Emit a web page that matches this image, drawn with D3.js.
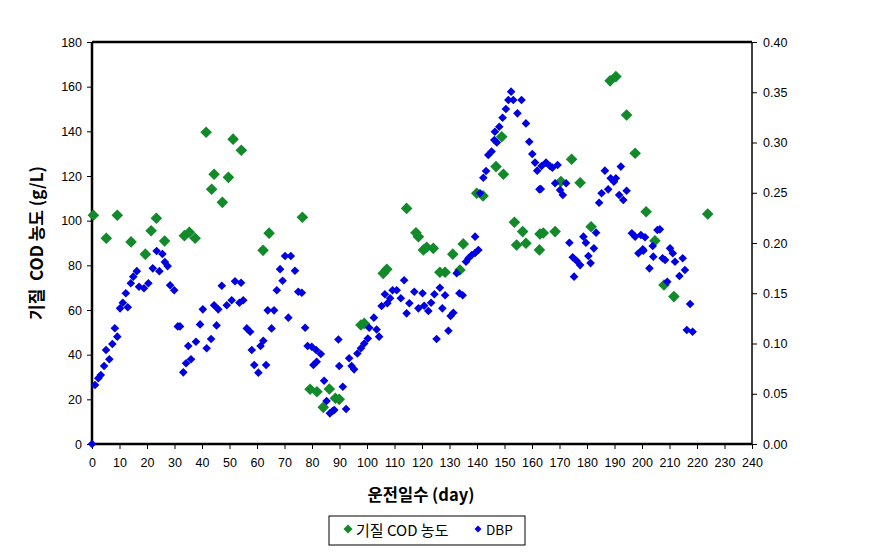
<!DOCTYPE html>
<html>
<head>
<meta charset="utf-8">
<script src="https://cdn.jsdelivr.net/npm/d3@7"></script>
<style>
  body { margin: 0; background: #fff; }
  svg text { font-family: "Noto Sans CJK KR", "Liberation Sans", sans-serif; fill: #000; }
</style>
</head>
<body>
<div id="chart"></div>
<script>
// 기질 COD 농도 (day, g/L)
let codDays = [0.5,5.2,9.2,14.2,19.4,21.5,23.4,26.4,33.6,35.4,37.5,41.5,43.5,44.4,47.4,49.6,51.3,54.3,62.2,64.4,
  76.5,79.3,81.8,84.1,86.3,88.5,89.9,97.8,99,105.9,107.2,114.4,117.8,118.7,120.5,121.7,124.1,126.5,128.4,131.2,
  133.8,135,139.9,142.2,146.9,149,149.6,153.6,154.4,156.6,157.8,162.7,162.9,164.1,168.4,170.5,174.4,177.5,181.5,188.4,
  190.5,194.4,197.5,201.5,204.7,208,211.6,223.9]
let codValues = [102.4,92.1,102.4,90.5,85.0,95.5,101.1,90.9,93.3,94.8,92.1,139.6,114.1,120.8,108.2,119.4,136.5,131.5,86.7,94.4,
  101.5,24.5,23.4,16.4,24.6,20.5,20.0,53.3,54,76.4,78.2,105.5,94.6,92.8,86.9,88.1,87.6,76.9,76.9,85.0,
  77.9,89.6,112.3,111.1,124.2,137.6,120.8,99.3,89.1,95.1,89.9,86.9,94.0,94.5,95.1,117.5,127.5,117,97.3,162.6,
  164.5,147.3,130.2,104.0,91.0,71.2,66,103.0]

// DBP (day, value)
let dbpDays = [0,1.1,2.3,3.2,4.4,5.1,6.3,7.4,8.3,9.2,10.2,11.2,12.3,13,14.1,15,16.3,17.1,18.9,20.5,
  22.1,23.5,24.5,25.6,26.5,27.5,28.4,29.9,31.2,32,33.2,34.2,35,36,37.8,39.3,40.3,41.7,43.3,44.4,
  45.3,45.9,47.2,49,50.8,52,53.6,54.2,55,56.3,57.5,58.1,59,60.5,61.3,62.3,63.3,63.9,65.3,66.2,
  67.2,68.4,69.3,70.2,71.4,72.3,73.8,75,76.3,77.5,78.4,79.9,80.5,81.5,81.7,83.2,84.4,85.3,86.5,87.5,
  88.1,89.6,89.9,91.2,92.4,93.5,94.4,95.3,96.5,97.8,99,100.3,100.8,102.5,103.5,104.4,105.3,106.5,107.4,108.4,
  109.3,110.8,112.3,113.5,114.4,115.4,117.2,118.7,120.2,120.8,122.3,123.3,124.5,125.3,126.5,127.4,128.4,129.6,130.4,131.4,
  132.6,133.6,134.8,136,136.9,138.1,139.3,139.3,140.5,141.1,142.3,143.3,144.1,145.3,146.3,146.5,147.2,148.1,149.3,150.5,
  151.4,152.4,153.2,154.7,156.2,157.8,159,160.1,161.1,161.9,162.7,163.2,163.5,165.1,166.5,167.4,168.4,169.3,170.2,171.2,
  172.4,173.6,174.8,175.3,176.2,177.5,178.7,179.6,180.5,181.3,182.5,183.3,184.4,185.3,186.5,187.7,188.6,189.8,190.5,191.7,
  192.3,193.2,194.4,196.3,197.5,198.7,199.6,200.3,200.5,201.1,202.7,203.9,204.1,205.6,206.5,207.5,208.4,209.2,210.2,211.2,
  212,213.6,214.8,215.6,216.3,217.5,218.4]
let dbpValues = [0,0.0587,0.0654,0.0687,0.0776,0.0935,0.0843,0.0995,0.1151,0.1068,0.135,0.1406,0.150,0.136,0.160,0.1665,0.172,0.1565,0.155,0.160,
  0.1748,0.192,0.172,0.189,0.181,0.177,0.158,0.153,0.117,0.117,0.0713,0.0803,0.0975,0.0843,0.1018,0.119,0.134,0.0952,0.1045,0.138,
  0.118,0.134,0.1575,0.138,0.143,0.162,0.1406,0.1605,0.143,0.115,0.1117,0.0935,0.0786,0.071,0.0975,0.1028,0.0786,0.133,0.115,0.133,
  0.153,0.174,0.1625,0.187,0.1257,0.187,0.1724,0.1515,0.1505,0.1157,0.0975,0.0968,0.0786,0.0935,0.0819,0.0896,0.063,0.0428,0.0305,0.0328,
  0.0338,0.104,0.0776,0.057,0.0348,0.0853,0.0776,0.0743,0.090,0.0952,0.100,0.105,0.1157,0.1257,0.114,0.1068,0.1373,0.149,0.140,0.145,
  0.153,0.153,0.145,0.163,0.130,0.140,0.1515,0.135,0.150,0.1376,0.1323,0.1406,0.149,0.1045,0.1555,0.135,0.148,0.1127,0.1274,0.1306,
  0.170,0.150,0.148,0.1814,0.1848,0.188,0.190,0.2063,0.193,0.2495,0.265,0.2716,0.2876,0.291,0.3025,0.3107,0.300,0.3157,0.3247,0.3333,
  0.3423,0.3506,0.3423,0.329,0.3423,0.319,0.3008,0.2886,0.280,0.272,0.2534,0.2537,0.2766,0.280,0.2766,0.275,0.2594,0.2776,0.2527,0.2478,
  0.2594,0.2003,0.1858,0.1665,0.1824,0.178,0.2063,0.2003,0.187,0.180,0.1947,0.2103,0.240,0.2495,0.272,0.2534,0.2644,0.261,0.2644,0.2478,
  0.276,0.2428,0.252,0.2097,0.2063,0.1898,0.208,0.1937,0.1923,0.2057,0.1748,0.197,0.1864,0.213,0.2136,0.1848,0.1831,0.1615,0.1947,0.1898,
  0.1814,0.1672,0.1848,0.1731,0.1134,0.1393,0.1117]

let xTicks = d3.range(0, 241, 10)
let yLeftTicks = d3.range(0, 181, 20)
let yRightTicks = [0, 0.05, 0.10, 0.15, 0.20, 0.25, 0.30, 0.35, 0.40]

let W = 870, H = 555
let m = {top: 42, right: 118, bottom: 111, left: 92}
let plotW = W - m.left - m.right
let plotH = H - m.top - m.bottom

let svg = d3.select('#chart').append('svg').attr('width', W).attr('height', H)
let g = svg.append('g').attr('transform', 'translate(' + m.left + ',' + m.top + ')')

let x = d3.scaleLinear().domain([0, 240]).range([0, plotW])
let yL = d3.scaleLinear().domain([0, 180]).range([plotH, 0])
let yR = d3.scaleLinear().domain([0, 0.4]).range([plotH, 0])

let xAxis = d3.axisBottom(x).tickValues(xTicks).tickSize(5).tickPadding(9)
let leftAxis = d3.axisLeft(yL).tickValues(yLeftTicks).tickSize(5).tickPadding(5)
let rightAxis = d3.axisRight(yR).tickValues(yRightTicks).tickSize(5).tickPadding(6).tickFormat(d3.format('.2f'))

let xg = g.append('g').attr('transform', 'translate(0,' + plotH + ')').call(xAxis)
let lg = g.append('g').call(leftAxis)
let rg = g.append('g').attr('transform', 'translate(' + plotW + ',0)').call(rightAxis)

;[xg, lg, rg].forEach(a => {
  a.select('.domain').remove()
  a.selectAll('line').attr('stroke', '#000').attr('stroke-width', 1)
  a.selectAll('text').attr('font-size', 12.5).style('font-family', '"Liberation Sans", sans-serif')
})

// frame
g.append('line').attr('x1', 0).attr('x2', plotW).attr('y1', 0).attr('y2', 0).attr('stroke', '#000').attr('stroke-width', 2.5)
g.append('line').attr('x1', 0).attr('x2', plotW).attr('y1', plotH).attr('y2', plotH).attr('stroke', '#000').attr('stroke-width', 2.5)
g.append('line').attr('x1', 0).attr('x2', 0).attr('y1', 0).attr('y2', plotH).attr('stroke', '#000').attr('stroke-width', 2.5)
g.append('line').attr('x1', plotW).attr('x2', plotW).attr('y1', 0).attr('y2', plotH).attr('stroke', '#000').attr('stroke-width', 1.5)

let diamond = r => 'M0,' + (-r) + 'L' + r + ',0L0,' + r + 'L' + (-r) + ',0Z'

let codData = codDays.map((d, i) => ({day: d, v: codValues[i]}))
let dbpData = dbpDays.map((d, i) => ({day: d, v: dbpValues[i]}))

g.append('g').selectAll('path').data(codData).enter().append('path')
  .attr('d', diamond(5.8))
  .attr('fill', '#138a2a')
  .attr('transform', d => 'translate(' + x(d.day) + ',' + yL(d.v) + ')')

g.append('g').selectAll('path').data(dbpData).enter().append('path')
  .attr('d', diamond(4.3))
  .attr('fill', '#0000e0')
  .attr('transform', d => 'translate(' + x(d.day) + ',' + yR(d.v) + ')')

// axis titles
svg.append('text')
  .attr('transform', 'translate(43,' + (m.top + plotH / 2) + ') rotate(-90)')
  .attr('text-anchor', 'middle')
  .attr('font-size', 17).attr('font-weight', 'bold')
  .style('white-space', 'pre')
  .text('기질  COD 농도 (g/L)')

svg.append('text')
  .attr('x', m.left + plotW / 2 - 1).attr('y', 501)
  .attr('text-anchor', 'middle')
  .attr('font-size', 16.5).attr('font-weight', 'bold')
  .text('운전일수 (day)')

// legend
let leg = svg.append('g').attr('transform', 'translate(329,516)')
leg.append('rect').attr('width', 196).attr('height', 29).attr('fill', '#fff').attr('stroke', '#000').attr('stroke-width', 1)
leg.append('path').attr('d', diamond(4.5)).attr('fill', '#138a2a').attr('transform', 'translate(19,13)')
leg.append('text').attr('x', 27).attr('y', 20).attr('font-size', 15).text('기질 COD 농도')
leg.append('path').attr('d', diamond(3.5)).attr('fill', '#0000e0').attr('transform', 'translate(149,13)')
leg.append('text').attr('x', 157).attr('y', 19).attr('font-size', 13.5).text('DBP')
</script>
</body>
</html>
